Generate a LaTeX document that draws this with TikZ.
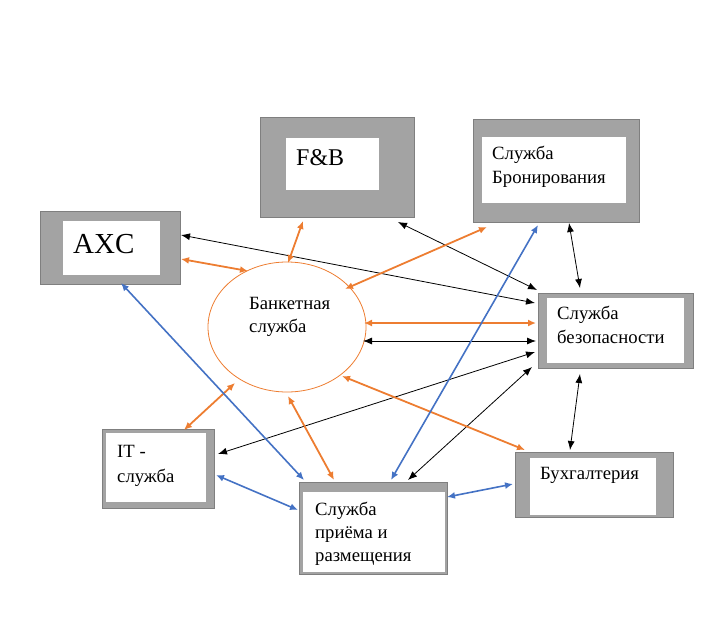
\documentclass[tikz,border=0pt]{standalone}
\usepackage{fontspec}
\setmainfont{Liberation Serif}
\usetikzlibrary{arrows.meta,shapes.geometric}
\definecolor{boxgray}{HTML}{A3A3A3}
\definecolor{boxedge}{HTML}{7F7F7F}
\definecolor{orng}{HTML}{ED7D31}
\definecolor{blu}{HTML}{4472C4}
\tikzset{
  outerbox/.style={rectangle, fill=boxgray, draw=boxedge, line width=1pt, inner sep=0pt, outer sep=0pt},
  innerbox/.style={rectangle, fill=white, inner sep=0pt, outer sep=0pt},
  lbl/.style={anchor=base west, inner sep=0pt, font=\fontsize{18.7}{23}\selectfont},
  oarr/.style={draw=orng, line width=1.8pt, {Latex[length=8pt,width=7pt]}-{Latex[length=8pt,width=7pt]}},
  karr/.style={draw=black, line width=0.8pt, {Latex[length=9pt,width=7pt]}-{Latex[length=9pt,width=7pt]}},
  barr/.style={draw=blu, line width=1.6pt, {Latex[length=8pt,width=7pt]}-{Latex[length=8pt,width=7pt]}},
}
\begin{document}
\begin{tikzpicture}[x=1pt,y=-1pt]
\useasboundingbox (0,0) rectangle (717,627);
% boxes
\node[outerbox, minimum width=140, minimum height=73] (axc) at (110,247.5) {};
\node[innerbox, minimum width=97, minimum height=54] (axci) at (111.5,248) {};
\node[outerbox, minimum width=154, minimum height=100] (fb) at (337,167) {};
\node[innerbox, minimum width=93, minimum height=52] (fbi) at (332.5,164) {};
\node[outerbox, minimum width=166, minimum height=103] (bron) at (556,170.5) {};
\node[innerbox, minimum width=144, minimum height=66] (broni) at (554,170) {};
\node[outerbox, minimum width=155, minimum height=75] (bez) at (615.5,330.5) {};
\node[innerbox, minimum width=137, minimum height=65] (bezi) at (615.5,330.5) {};
\node[outerbox, minimum width=112, minimum height=79] (it) at (158,468.5) {};
\node[innerbox, minimum width=100, minimum height=69] (iti) at (156,467.5) {};
\node[outerbox, minimum width=148, minimum height=92] (pr) at (373,528) {};
\node[innerbox, minimum width=142, minimum height=80] (pri) at (374,532) {};
\node[outerbox, minimum width=158, minimum height=65] (bux) at (594,484.5) {};
\node[innerbox, minimum width=126, minimum height=57] (buxi) at (593,486.5) {};
\node[ellipse, draw=orng, line width=0.8pt, minimum width=158, minimum height=130, inner sep=0pt] (ban) at (287,327) {};
% texts
\node[anchor=base west, inner sep=0pt, font=\fontsize{29}{34}\selectfont] (taxc) at (73,253) {AXC};
\node[anchor=base west, inner sep=0pt, font=\fontsize{24}{28}\selectfont] (tfb) at (296,165) {F\&B};
\node[lbl] (tbron1) at (492,159) {Служба};
\node[lbl] (tbron2) at (492,183) {Бронирования};
\node[lbl] (tbez1) at (557,319) {Служба};
\node[lbl] (tbez2) at (557,343) {безопасности};
\node[lbl] (tit1) at (117,457) {IT -};
\node[lbl] (tit2) at (117,482) {служба};
\node[lbl] (tpr1) at (315,515) {Служба};
\node[lbl] (tpr2) at (315,538) {приёма и};
\node[lbl] (tpr3) at (315,561) {размещения};
\node[lbl] (tbux) at (540,479) {Бухгалтерия};
\node[lbl] (tban1) at (249,309) {Банкетная};
\node[lbl] (tban2) at (249,332) {служба};
% connector end points
\coordinate (o1a) at (181,259); \coordinate (o1b) at (248,271);
\coordinate (o2a) at (303,221); \coordinate (o2b) at (288,263);
\coordinate (o3a) at (487,227); \coordinate (o3b) at (345,289);
\coordinate (o4a) at (536,323); \coordinate (o4b) at (364,323);
\coordinate (o5a) at (525,450); \coordinate (o5b) at (342,376);
\coordinate (o6a) at (184,430); \coordinate (o6b) at (235,383);
\coordinate (o7a) at (334,480); \coordinate (o7b) at (288,396);
\coordinate (k1a) at (181,235); \coordinate (k1b) at (535,303);
\coordinate (k2a) at (398,222); \coordinate (k2b) at (537,290);
\coordinate (k3a) at (569,223); \coordinate (k3b) at (580,288);
\coordinate (k4a) at (363,341); \coordinate (k4b) at (536,341);
\coordinate (k5a) at (535,352); \coordinate (k5b) at (218,454);
\coordinate (k6a) at (532,367); \coordinate (k6b) at (408,480);
\coordinate (k7a) at (580,374); \coordinate (k7b) at (570,450);
\coordinate (b1a) at (121,283); \coordinate (b1b) at (304,480);
\coordinate (b2a) at (538,225); \coordinate (b2b) at (391,480);
\coordinate (b3a) at (216,475); \coordinate (b3b) at (298,510);
\coordinate (b4a) at (447,497); \coordinate (b4b) at (513,484);
% connectors
\draw[karr] (k1a) -- (k1b);
\draw[karr] (k2a) -- (k2b);
\draw[karr] (k3a) -- (k3b);
\draw[karr] (k4a) -- (k4b);
\draw[karr] (k5a) -- (k5b);
\draw[karr] (k6a) -- (k6b);
\draw[karr] (k7a) -- (k7b);
\draw[oarr] (o1a) -- (o1b);
\draw[oarr] (o2a) -- (o2b);
\draw[oarr] (o3a) -- (o3b);
\draw[oarr] (o4a) -- (o4b);
\draw[oarr] (o5a) -- (o5b);
\draw[oarr] (o6a) -- (o6b);
\draw[oarr] (o7a) -- (o7b);
\draw[barr] (b1a) -- (b1b);
\draw[barr] (b2a) -- (b2b);
\draw[barr] (b3a) -- (b3b);
\draw[barr] (b4a) -- (b4b);
\end{tikzpicture}
\end{document}
